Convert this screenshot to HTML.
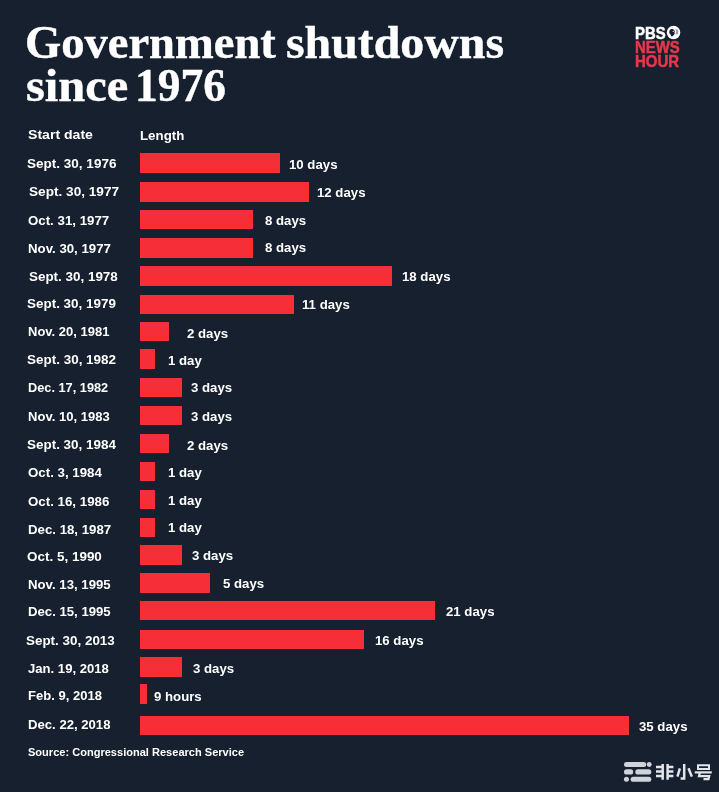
<!DOCTYPE html>
<html><head><meta charset="utf-8"><title>Government shutdowns since 1976</title>
<style>
html,body{margin:0;padding:0;}
body{width:719px;height:792px;background:#17202e;position:relative;overflow:hidden;font-family:"Liberation Sans",sans-serif;color:#fff;}
#wrap{position:absolute;left:0;top:0;width:719px;height:792px;will-change:transform;}
.w{position:absolute;margin:0;font-family:"Liberation Serif",serif;font-weight:bold;font-size:46.5px;height:40px;line-height:40px;color:#fff;white-space:nowrap;transform-origin:0 0;-webkit-text-stroke:0.45px #fff;}
.t{position:absolute;height:20.0px;line-height:20.0px;font-size:13.6px;font-weight:bold;white-space:nowrap;transform-origin:0 0;color:#fff;}
.b{position:absolute;left:139.5px;background:#f62e38;}
.lg{position:absolute;height:16px;line-height:16px;font-size:16.1px;font-weight:bold;white-space:nowrap;transform-origin:0 0;-webkit-text-stroke:0.5px currentColor;}
.src{position:absolute;height:14px;font-size:11px;font-weight:bold;line-height:14px;color:#fff;white-space:nowrap;transform-origin:0 0;}
</style></head><body><div id="wrap">
<div class="w" style="left:25.20px;top:22.81px;transform:scaleX(1.0010)">Government</div>
<div class="w" style="left:286.27px;top:22.81px;transform:scaleX(1.0288)">shutdowns</div>
<div class="w" style="left:26.26px;top:65.71px;transform:scaleX(1.0413)">since</div>
<div class="w" style="left:135.47px;top:65.71px;transform:scaleX(0.9769)">1976</div>
<div class="t" style="left:28.00px;top:125.09px;transform:scaleX(1.0358)">Start date</div>
<div class="t" style="left:140.30px;top:125.99px;transform:scaleX(0.9778)">Length</div>
<div class="b" style="top:153.3px;height:20.0px;width:140.6px"></div>
<div class="t" style="left:27.40px;top:154.09px;transform:scaleX(0.9948)">Sept. 30, 1976</div>
<div class="t" style="left:288.70px;top:154.99px;transform:scaleX(0.9720)">10 days</div>
<div class="b" style="top:182.1px;height:19.5px;width:169.0px"></div>
<div class="t" style="left:28.60px;top:182.39px;transform:scaleX(1.0015)">Sept. 30, 1977</div>
<div class="t" style="left:317.40px;top:183.09px;transform:scaleX(0.9720)">12 days</div>
<div class="b" style="top:209.5px;height:19.3px;width:113.4px"></div>
<div class="t" style="left:27.90px;top:210.89px;transform:scaleX(0.9762)">Oct. 31, 1977</div>
<div class="t" style="left:265.10px;top:210.69px;transform:scaleX(0.9720)">8 days</div>
<div class="b" style="top:237.8px;height:20.0px;width:113.4px"></div>
<div class="t" style="left:27.90px;top:238.69px;transform:scaleX(0.9742)">Nov. 30, 1977</div>
<div class="t" style="left:265.10px;top:238.49px;transform:scaleX(0.9720)">8 days</div>
<div class="b" style="top:265.8px;height:20.2px;width:252.6px"></div>
<div class="t" style="left:28.90px;top:266.99px;transform:scaleX(0.9871)">Sept. 30, 1978</div>
<div class="t" style="left:401.90px;top:266.69px;transform:scaleX(0.9720)">18 days</div>
<div class="b" style="top:294.5px;height:19.3px;width:154.7px"></div>
<div class="t" style="left:27.40px;top:293.69px;transform:scaleX(0.9893)">Sept. 30, 1979</div>
<div class="t" style="left:302.40px;top:294.79px;transform:scaleX(0.9720)">11 days</div>
<div class="b" style="top:321.5px;height:19.8px;width:29.0px"></div>
<div class="t" style="left:27.90px;top:322.09px;transform:scaleX(0.9558)">Nov. 20, 1981</div>
<div class="t" style="left:186.50px;top:324.09px;transform:scaleX(0.9720)">2 days</div>
<div class="b" style="top:349.1px;height:19.7px;width:15.2px"></div>
<div class="t" style="left:26.60px;top:350.09px;transform:scaleX(0.9904)">Sept. 30, 1982</div>
<div class="t" style="left:167.90px;top:350.99px;transform:scaleX(0.9720)">1 day</div>
<div class="b" style="top:377.7px;height:19.7px;width:42.7px"></div>
<div class="t" style="left:27.90px;top:378.09px;transform:scaleX(0.9389)">Dec. 17, 1982</div>
<div class="t" style="left:191.10px;top:378.19px;transform:scaleX(0.9720)">3 days</div>
<div class="b" style="top:405.5px;height:19.4px;width:42.7px"></div>
<div class="t" style="left:27.90px;top:406.89px;transform:scaleX(0.9593)">Nov. 10, 1983</div>
<div class="t" style="left:191.10px;top:406.99px;transform:scaleX(0.9720)">3 days</div>
<div class="b" style="top:433.7px;height:19.7px;width:29.0px"></div>
<div class="t" style="left:27.40px;top:434.69px;transform:scaleX(0.9893)">Sept. 30, 1984</div>
<div class="t" style="left:187.10px;top:436.39px;transform:scaleX(0.9720)">2 days</div>
<div class="b" style="top:461.5px;height:19.7px;width:15.2px"></div>
<div class="t" style="left:27.90px;top:463.19px;transform:scaleX(0.9775)">Oct. 3, 1984</div>
<div class="t" style="left:167.90px;top:463.29px;transform:scaleX(0.9720)">1 day</div>
<div class="b" style="top:490.1px;height:18.9px;width:15.2px"></div>
<div class="t" style="left:27.90px;top:491.79px;transform:scaleX(0.9788)">Oct. 16, 1986</div>
<div class="t" style="left:167.50px;top:490.99px;transform:scaleX(0.9720)">1 day</div>
<div class="b" style="top:517.9px;height:19.4px;width:15.2px"></div>
<div class="t" style="left:27.90px;top:520.29px;transform:scaleX(0.9735)">Dec. 18, 1987</div>
<div class="t" style="left:167.50px;top:517.59px;transform:scaleX(0.9720)">1 day</div>
<div class="b" style="top:545.2px;height:19.4px;width:42.7px"></div>
<div class="t" style="left:27.40px;top:547.39px;transform:scaleX(0.9906)">Oct. 5, 1990</div>
<div class="t" style="left:192.00px;top:546.09px;transform:scaleX(0.9720)">3 days</div>
<div class="b" style="top:572.9px;height:19.7px;width:70.6px"></div>
<div class="t" style="left:27.90px;top:575.39px;transform:scaleX(0.9710)">Nov. 13, 1995</div>
<div class="t" style="left:223.20px;top:574.49px;transform:scaleX(0.9720)">5 days</div>
<div class="b" style="top:600.5px;height:19.7px;width:295.0px"></div>
<div class="t" style="left:27.90px;top:602.19px;transform:scaleX(0.9680)">Dec. 15, 1995</div>
<div class="t" style="left:445.70px;top:602.49px;transform:scaleX(0.9720)">21 days</div>
<div class="b" style="top:629.5px;height:19.2px;width:224.4px"></div>
<div class="t" style="left:26.40px;top:631.49px;transform:scaleX(0.9871)">Sept. 30, 2013</div>
<div class="t" style="left:375.10px;top:631.49px;transform:scaleX(0.9720)">16 days</div>
<div class="b" style="top:657.3px;height:19.3px;width:42.3px"></div>
<div class="t" style="left:27.90px;top:658.69px;transform:scaleX(0.9640)">Jan. 19, 2018</div>
<div class="t" style="left:192.80px;top:659.09px;transform:scaleX(0.9720)">3 days</div>
<div class="b" style="top:684.0px;height:19.6px;width:7.6px"></div>
<div class="t" style="left:27.90px;top:686.49px;transform:scaleX(0.9585)">Feb. 9, 2018</div>
<div class="t" style="left:153.70px;top:686.69px;transform:scaleX(0.9720)">9 hours</div>
<div class="b" style="top:716.1px;height:19.4px;width:489.8px"></div>
<div class="t" style="left:28.10px;top:714.89px;transform:scaleX(0.9657)">Dec. 22, 2018</div>
<div class="t" style="left:638.60px;top:717.19px;transform:scaleX(0.9720)">35 days</div>
<div class="src" style="left:28.40px;top:744.59px;transform:scaleX(1.0042)">Source: Congressional Research Service</div>
<div class="lg" style="color:#fff;left:634.58px;top:25.02px;transform:scaleX(0.9241)">PBS</div>
<div class="lg" style="color:#e8374b;left:634.67px;top:38.92px;transform:scaleX(0.9275)">NEWS</div>
<div class="lg" style="color:#e8374b;left:634.67px;top:52.72px;transform:scaleX(0.9302)">HOUR</div>
<svg width="719" height="792" viewBox="0 0 719 792" style="position:absolute;left:0;top:0">
<!-- PBS head logo -->
<circle cx="673.55" cy="32.6" r="6.75" fill="#fff"/>
<path d="M671.9 28.9c1.6 0 2.8 1 2.8 2.5 0 .5-.1.9-.3 1.2l.5.9-.6.3v.9c0 .4-.3.6-.8.6h-.5v1h-2.2l.2-1.5c-.9-.5-1.7-1.5-1.7-2.9 0-1.7 1.1-3 2.600-3z" fill="#1d1a2a"/>
<circle cx="673.2" cy="31.4" r="0.55" fill="#fff"/>
<path d="M675.6 29.3c.9.8 1.300 2 .9 3.300l-.5 1.700M677 29.600c.8 1 1 2.200.5 3.500l-.4 1.300" fill="none" stroke="#3c3a4a" stroke-width="0.6"/>
<!-- watermark icon -->
<g fill="#cfd3da">
<rect x="624" y="762" width="22.200" height="5" rx="2.500"/><circle cx="649.2" cy="764.5" r="2.450"/>
<rect x="624" y="769.300" width="9.200" height="5.200" rx="2.600"/><rect x="635.3" y="769.300" width="16" height="5.200" rx="2.600"/>
<circle cx="626.45" cy="779.2" r="2.500"/><rect x="630.6" y="776.700" width="20.700" height="5.100" rx="2.550"/>
</g>
<!-- watermark glyphs -->
<g fill="none" stroke="#e2e5ea" stroke-width="2.500" stroke-linecap="butt" stroke-linejoin="miter">
<path d="M662.700 764v15.800M667.600 764v15.800M656 767h6.700M656 771.500h6.700M656 776h6.700M667.600 767h5.800M667.600 771.500h5.800M667.600 776h5.800"/>
<path d="M684.200 764v14.500h-3.600M679.900 768.300l-2.500 8.300M688.500 768.300l3.300 8.300"/>
<path d="M698 765.200h11v3.700h-11z" stroke-width="2"/><path d="M694.700 772.400h17.100" stroke-width="2.200"/>
<path d="M699.900 772.300l-.9 3.800h10.200l-.7 3h-5" stroke-width="2.200"/>
</g>
</svg>
</div></body></html>
